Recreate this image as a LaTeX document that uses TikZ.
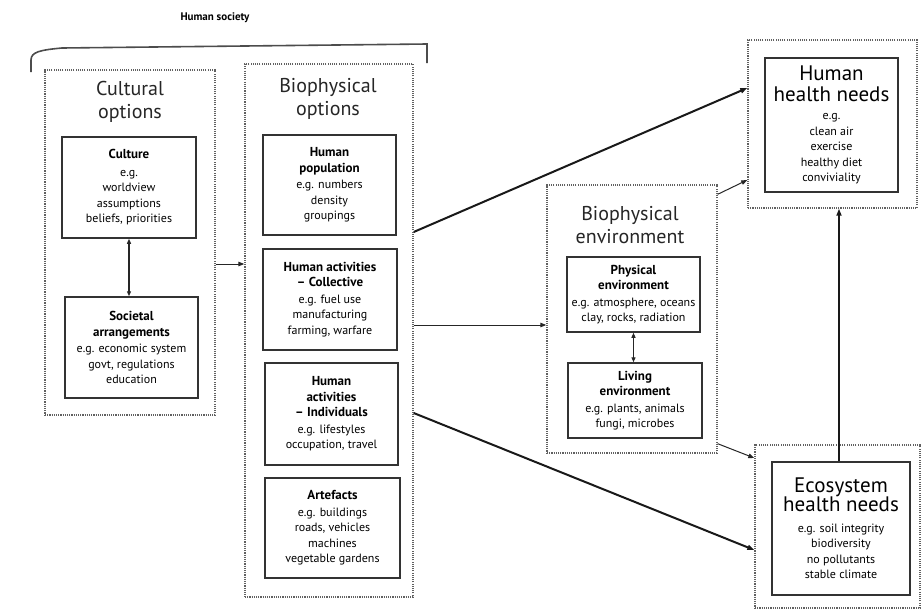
\documentclass[tikz,border=0pt]{standalone}
\usepackage{fontspec}
\setmainfont{PT Sans}
\usetikzlibrary{arrows.meta}
\tikzset{
  outerbox/.style={draw=black!62, line width=1.4pt, dash pattern=on 1.1pt off 1.1pt, inner sep=0pt},
  innerbox/.style={draw=black!80, line width=1.5pt, align=center, inner sep=2pt,
    font=\fontsize{12}{15.5}\selectfont},
  headtxt/.style={align=center, font=\fontsize{20}{23}\selectfont, text=black!85},
  thinarrow/.style={draw=black!85, line width=1pt, -{Triangle[length=6pt,width=4.5pt]}},
  thickarrow/.style={draw=black!90, line width=2pt, -{Triangle[length=7pt,width=5pt]}},
  twoway/.style={draw=black!85, line width=1.2pt, {Triangle[length=5pt,width=4pt]}-{Triangle[length=5pt,width=4pt]}},
}
\newcommand{\hd}[1]{{\fontsize{13}{16}\selectfont\bfseries #1}}
\newcommand{\bigtitle}[1]{{\fontsize{21}{21}\selectfont #1}}
\begin{document}
\begin{tikzpicture}[x=1pt,y=-1pt]
\useasboundingbox (0,0) rectangle (922,611);
\fill[white] (0,0) rectangle (922,611);

% Human society bracket
\node[font=\fontsize{11}{13}\selectfont\bfseries] (society) at (215,18) {Human society};
\draw[black!70, line width=1.6pt] (31,72) -- (31,60) .. controls (31,52) and (40,50) .. (62,48) -- (427,44) -- (427,63);

% Cultural options
\node[outerbox, minimum width=170pt, minimum height=345pt] (cultout) at (130,242.5) {};
\node[headtxt] (culttitle) at (130,102) {Cultural\\options};
\node[innerbox, minimum width=134pt, minimum height=101pt] (culture) at (129,187.5)
  {\hd{Culture}\\[2pt] e.g.\\ worldview\\ assumptions\\ beliefs, priorities};
\node[innerbox, minimum width=133pt, minimum height=101pt] (societal) at (131.5,347.5)
  {\hd{Societal}\\ \hd{arrangements}\\[1pt] e.g. economic system\\ govt, regulations\\ education};

% Biophysical options
\node[outerbox, minimum width=168pt, minimum height=533pt] (biopt) at (329,330.5) {};
\node[headtxt] (bioptitle) at (328,99) {Biophysical\\options};
\node[innerbox, minimum width=133pt, minimum height=100pt] (population) at (329.5,185)
  {\hd{Human}\\ \hd{population}\\[1pt] e.g. numbers\\ density\\ groupings};
\node[innerbox, minimum width=134pt, minimum height=101pt] (collective) at (330,299.5)
  {\hd{Human activities}\\ \hd{-- Collective}\\[1pt] e.g. fuel use\\ manufacturing\\ farming, warfare};
\node[innerbox, minimum width=133pt, minimum height=102pt] (individual) at (331.5,414)
  {\hd{Human}\\ \hd{activities}\\ \hd{-- Individuals}\\[1pt] e.g. lifestyles\\ occupation, travel};
\node[innerbox, minimum width=135pt, minimum height=100pt] (artefacts) at (332.5,528)
  {\hd{Artefacts}\\[1pt] e.g. buildings\\ roads, vehicles\\ machines\\ vegetable gardens};

% Biophysical environment
\node[outerbox, minimum width=170pt, minimum height=268pt] (bioenv) at (632,319) {};
\node[headtxt] (bioenvtitle) at (630,225) {Biophysical\\environment};
\node[innerbox, minimum width=133pt, minimum height=75pt] (physical) at (633.5,294.5)
  {\hd{Physical}\\ \hd{environment}\\[1pt] e.g. atmosphere, oceans\\ clay, rocks, radiation};
\node[innerbox, minimum width=134pt, minimum height=75pt] (living) at (635,400.5)
  {\hd{Living}\\ \hd{environment}\\[1pt] e.g. plants, animals\\ fungi, microbes};

% Human health needs
\node[outerbox, minimum width=169pt, minimum height=168pt] (hhout) at (832.5,124) {};
\node[innerbox, minimum width=133pt, minimum height=134pt] (hhin) at (831.5,125)
  {\bigtitle{Human}\\[5pt] \bigtitle{health needs}\\[3pt] e.g.\\ clean air\\ exercise\\ healthy diet\\ conviviality};

% Ecosystem health needs
\node[outerbox, minimum width=165pt, minimum height=163pt] (ecoout) at (837.5,526.5) {};
\node[innerbox, minimum width=138pt, minimum height=133pt] (ecoin) at (841,528.5)
  {\bigtitle{Ecosystem}\\[-1pt] \bigtitle{health needs}\\[5pt] e.g. soil integrity\\ biodiversity\\ no pollutants\\ stable climate};

% Connectors
\draw[twoway] (culture.south) -- (culture.south |- societal.north);
\draw[twoway] (physical.south) -- (physical.south |- living.north);
\draw[thinarrow] ([yshift=-21.5pt]cultout.east) -- ([yshift=66.5pt]biopt.west);
\draw[thickarrow] ([yshift=98.5pt]biopt.east) -- ([yshift=36pt]hhout.west);
\draw[thinarrow] ([yshift=5.5pt]biopt.east) -- ([yshift=-6pt]bioenv.west);
\draw[thickarrow] ([yshift=-82.5pt]biopt.east) -- ([yshift=-23.5pt]ecoout.west);
\draw[thinarrow] ([yshift=-10pt]bioenv.north east) -- ([yshift=-56pt]hhout.west);
\draw[thinarrow] ([yshift=10pt]bioenv.south east) -- ([yshift=68.5pt]ecoout.west);
\draw[thickarrow, line width=1.6pt] ([xshift=-2pt]ecoin.north) -- ([xshift=-2pt]ecoin.north |- hhout.south);
\end{tikzpicture}
\end{document}
